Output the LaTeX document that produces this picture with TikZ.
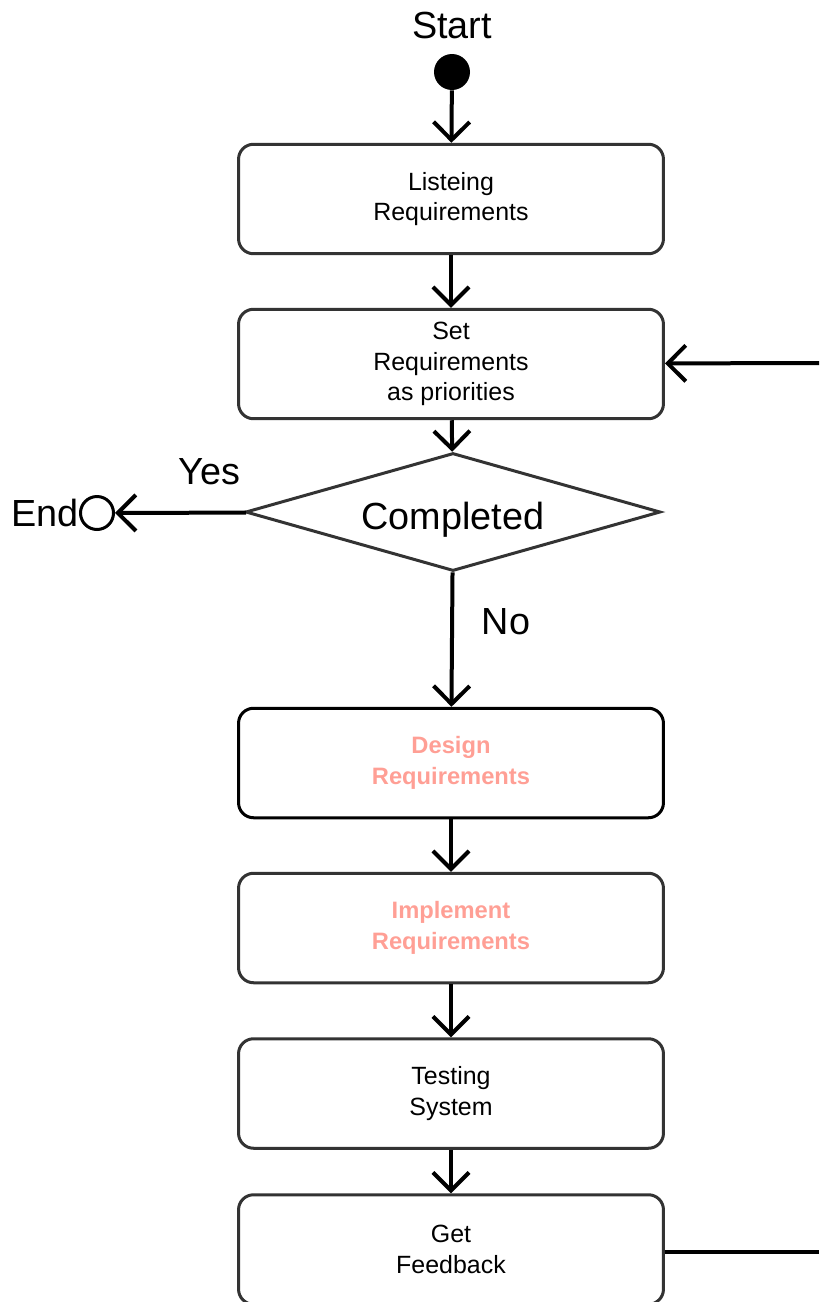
\documentclass[tikz,border=0pt]{standalone}
\usepackage{fontspec}
\setmainfont{Liberation Sans}
\usetikzlibrary{arrows.meta,shapes.geometric}
\definecolor{boxgray}{HTML}{333333}
\definecolor{salmon}{HTML}{FF9F95}
\begin{document}
\begin{tikzpicture}[x=0.02cm, y=-0.02cm,
  >={Straight Barb[length=0.36cm, width=0.72cm]},
  flow/.style={line width=0.08cm, ->},
  stepbox/.style={draw=boxgray, line width=0.06cm, rounded corners=0.3cm,
    minimum width=8.5cm, minimum height=2.19cm, align=center,
    font=\fontsize{14.2}{17.5}\selectfont},
  hot/.style={font=\fontsize{13.5}{17.5}\selectfont\bfseries, text=salmon},
  big/.style={font=\fontsize{21.5}{25}\selectfont}]
\useasboundingbox (0,0) rectangle (819,1302);
% start and end
\node[big] (start) at (452,25) {Start};
\node[circle, fill=black, minimum size=0.72cm, inner sep=0] (init) at (452,72) {};
\node[circle, draw=black, line width=0.06cm, minimum size=0.66cm, inner sep=0] (fin) at (97,513) {};
\node[big, anchor=east, inner sep=0] (endtxt) at (fin.west) {End};
% steps
\node[stepbox] (listen) at (451,199) {Listeing\\Requirements};
\node[stepbox] (prio) at (451,364) {Set\\Requirements\\ as priorities};
\node[diamond, draw=boxgray, line width=0.06cm, aspect=3.5, minimum width=8.3cm,
  minimum height=2.36cm, inner sep=0, big, text height=20pt, text depth=0pt] (done) at (453,512) {Completed};
\node[stepbox, draw=black, hot] (design) at (451,763) {Design\\Requirements};
\node[stepbox, hot] (impl) at (451,928) {Implement\\Requirements};
\node[stepbox] (test) at (451,1093.5) {Testing\\System};
\node[stepbox] (feedback) at (451,1249.5) {Get\\Feedback};
\coordinate (rr) at (819,1252);
\coordinate (rt) at (819,363);
% connectors
\draw[flow] (init) -- (listen);
\draw[flow] (listen) -- (prio);
\draw[flow] (prio) -- (done);
\draw[flow] (done) -- node[big, pos=0.28, yshift=0.82cm] (yes) {Yes} (fin);
\draw[flow] (done) -- node[big, pos=0.37, xshift=1.08cm] (no) {No} (design);
\draw[flow] (design) -- (impl);
\draw[flow] (impl) -- (test);
\draw[flow] (test) -- (feedback);
\draw[line width=0.08cm] (rr -| feedback.east) -- (rr);
\draw[flow] (rt) -- (prio);
\end{tikzpicture}
\end{document}
